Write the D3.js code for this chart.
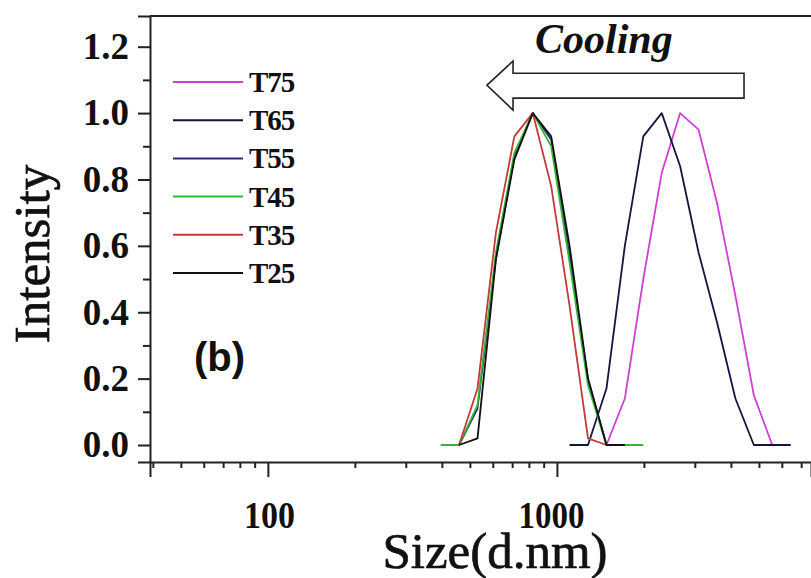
<!DOCTYPE html>
<html>
<head>
<meta charset="utf-8">
<script src="https://cdn.jsdelivr.net/npm/d3@7"></script>
<style>
  html, body { margin: 0; padding: 0; background: #fff; }
  svg { display: block; }
</style>
</head>
<body>
<svg id="chart" width="811" height="578"></svg>
<script>
// DLS size bins (d.nm)
const leftBins  = [396.1, 458.7, 531.2, 615.1, 712.4, 825.0, 955.4, 1106, 1281, 1484, 1718, 1990];
const rightBins = [1106, 1281, 1484, 1718, 1990, 2305, 2669, 3091, 3580, 4145, 4801, 5560, 6439];

// Normalised intensity per temperature
const t75 = [null, null, 0, 0.14, 0.50, 0.82, 1.00, 0.95, 0.73, 0.45, 0.15, 0, null];
const t65 = [0, 0, 0.17, 0.60, 0.93, 1.00, 0.84, 0.58, 0.37, 0.14, 0, 0, 0];
const t55 = [null, 0, 0.11, 0.56, 0.87, 1.00, 0.92, 0.57, 0.20, 0, null, null];
const t45 = [0, 0, 0.12, 0.58, 0.88, 1.00, 0.90, 0.55, 0.18, 0, 0, 0];
const t35 = [null, 0, 0.17, 0.64, 0.93, 1.00, 0.78, 0.42, 0.02, 0, null, null];
const t25 = [null, 0, 0.02, 0.56, 0.86, 1.00, 0.93, 0.60, 0.20, 0, 0, null];

const seriesNames = ["T75", "T65", "T55", "T45", "T35", "T25"];
const seriesColors = ["#d040d0", "#15153f", "#2b2b7e", "#35b535", "#c23a3a", "#111111"];

const yTicks = [0, 0.2, 0.4, 0.6, 0.8, 1.0, 1.2];
const yMinor = [0.1, 0.3, 0.5, 0.7, 0.9, 1.1];
const xTicks = [100, 1000];
const xMinor = [40, 50, 60, 70, 80, 90, 200, 300, 400, 500, 600, 700, 800, 900,
                2000, 3000, 4000, 5000, 6000, 7000];

const svg = d3.select("#chart");
const x = d3.scaleLog().domain([39.1, 7570]).range([150, 811]);
const y = d3.scaleLinear().domain([-0.0512, 1.2925]).range([462, 16]);

const serif = "'Liberation Serif', 'Times New Roman', serif";

// frame: top line
svg.append("line")
  .attr("x1", x.range()[0]).attr("x2", x.range()[1])
  .attr("y1", y.range()[1]).attr("y2", y.range()[1])
  .attr("stroke", "#222").attr("stroke-width", 2);

// curves
const series = [
  {bins: rightBins, vals: t75},
  {bins: rightBins, vals: t65},
  {bins: leftBins, vals: t55},
  {bins: leftBins, vals: t45},
  {bins: leftBins, vals: t35},
  {bins: leftBins, vals: t25}
];
const line = d3.line()
  .x(d => x(d[0])).y(d => y(d[1]));

series.forEach((s, i) => {
  const pts = s.bins.map((b, j) => [b, s.vals[j]]).filter(d => d[1] !== null);
  svg.append("path")
    .datum(pts)
    .attr("d", line)
    .attr("fill", "none")
    .attr("stroke", seriesColors[i])
    .attr("stroke-width", 1.8)
    .attr("stroke-linejoin", "round");
});

// y axis
svg.append("g").attr("transform", `translate(${x.range()[0]},0)`)
  .call(d3.axisLeft(y).tickValues(yTicks).tickSize(12).tickPadding(9)
        .tickFormat(d3.format(".1f")));
svg.append("g").attr("transform", `translate(${x.range()[0]},0)`)
  .call(d3.axisLeft(y).tickValues(yMinor).tickSize(7).tickFormat(""))
  .call(g => g.select(".domain").remove());

// x axis
const xAxis = svg.append("g").attr("transform", `translate(0,${y.range()[0]})`)
  .call(d3.axisBottom(x).tickValues(xTicks).tickSize(15).tickPadding(24)
        .tickFormat(d3.format("d")));
svg.append("g").attr("transform", `translate(0,${y.range()[0]})`)
  .call(d3.axisBottom(x).tickValues(xMinor).tickSize(6).tickFormat(""))
  .call(g => g.select(".domain").remove());

svg.selectAll(".domain").attr("stroke", "#222").attr("stroke-width", 2);
svg.selectAll(".tick line").attr("stroke", "#222").attr("stroke-width", 2);
svg.selectAll(".tick text")
  .attr("fill", "#111")
  .style("font-family", serif)
  .style("font-weight", "bold")
  .style("font-size", "37px");

// x tick labels are set slightly narrower
xAxis.selectAll(".tick text")
  .style("font-size", "38px")
  .attr("textLength", d => d === 1000 ? 66 : 51)
  .attr("lengthAdjust", "spacingAndGlyphs")
  .attr("dx", d => d === 1000 ? -6 : 1);

// axis titles
svg.append("text")
  .attr("transform", `translate(49,254) rotate(-90)`)
  .attr("text-anchor", "middle")
  .style("font-family", serif).style("font-size", "51px")
  .attr("fill", "#111").attr("stroke", "#111").attr("stroke-width", 0.7)
  .text("Intensity");

svg.append("text")
  .attr("x", 495).attr("y", 568)
  .attr("text-anchor", "middle")
  .style("font-family", serif).style("font-size", "51px")
  .attr("fill", "#111").attr("stroke", "#111").attr("stroke-width", 0.7)
  .text("Size(d.nm)");

// legend
const legend = svg.append("g");
seriesNames.forEach((name, i) => {
  const ly = 82 + i * 38.2;
  legend.append("line")
    .attr("x1", 173).attr("x2", 243).attr("y1", ly).attr("y2", ly)
    .attr("stroke", seriesColors[i]).attr("stroke-width", 2);
  legend.append("text")
    .attr("x", 249).attr("y", ly + 10)
    .style("font-family", serif).style("font-weight", "bold")
    .style("font-size", "29px").style("letter-spacing", "-1px")
    .attr("fill", "#111")
    .text(name);
});

// panel label
svg.append("text")
  .attr("x", 194).attr("y", 371)
  .style("font-family", "'Liberation Sans', Arial, sans-serif")
  .style("font-weight", "bold").style("font-size", "40px")
  .attr("fill", "#111")
  .text("(b)");

// cooling annotation: hollow arrow pointing to smaller sizes
const arrowTip = [573, 1.084];
const arrowNeck = 705;
const arrowTail = 4440;
const shaft = [1.045, 1.12];
const head = [1.009, 1.157];
const arrowPts = [
  [arrowTip[0], arrowTip[1]],
  [arrowNeck, head[1]],
  [arrowNeck, shaft[1]],
  [arrowTail, shaft[1]],
  [arrowTail, shaft[0]],
  [arrowNeck, shaft[0]],
  [arrowNeck, head[0]]
];
svg.append("polygon")
  .attr("points", arrowPts.map(p => [x(p[0]), y(p[1])].join(",")).join(" "))
  .attr("fill", "#fff").attr("stroke", "#222").attr("stroke-width", 1.6);

svg.append("text")
  .attr("x", 535).attr("y", 53)
  .style("font-family", serif).style("font-weight", "bold")
  .style("font-style", "italic").style("font-size", "42px")
  .attr("fill", "#111")
  .text("Cooling");
</script>
</body>
</html>
